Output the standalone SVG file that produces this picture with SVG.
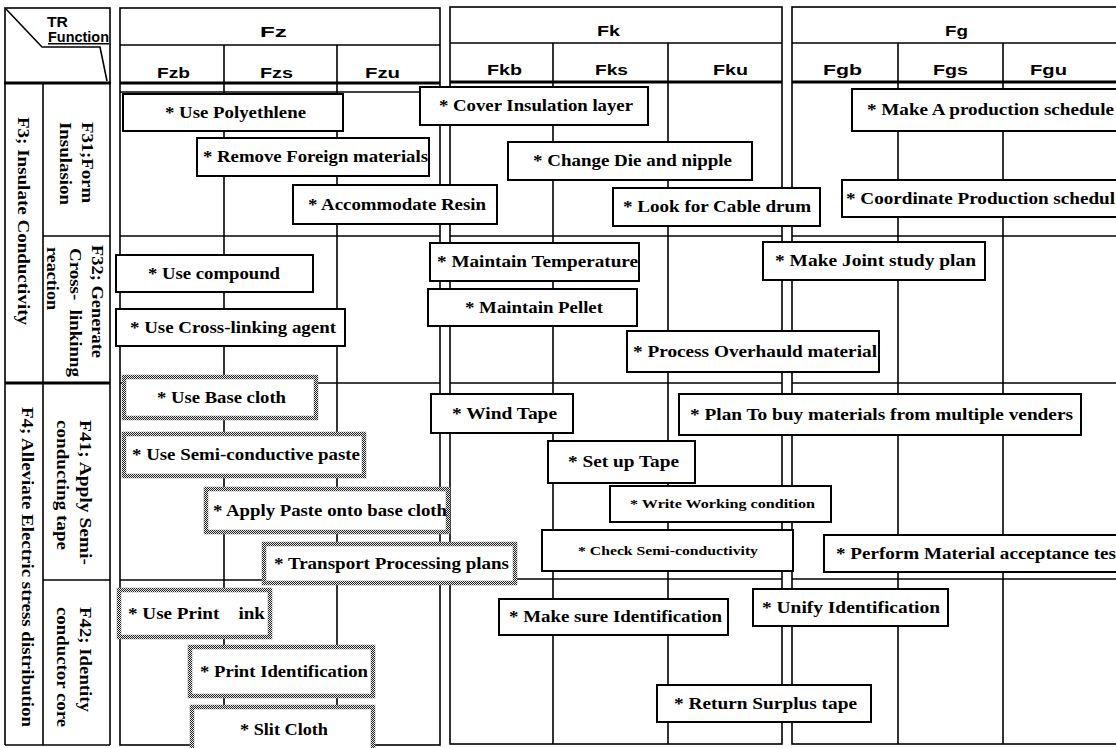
<svg xmlns="http://www.w3.org/2000/svg" width="1116" height="748" viewBox="0 0 1116 748">
<style>
.ln{stroke:#000;stroke-width:1.6;fill:none}
.thk{stroke:#000;stroke-width:3;fill:none}
.box{fill:#fff;stroke:#000;stroke-width:2}
.hbox{fill:#fff;stroke:url(#chk);stroke-width:4.5}
.t{font-family:"Liberation Serif","Times New Roman",serif;font-weight:bold;font-size:17px;fill:#000}
.ts{font-family:"Liberation Serif","Times New Roman",serif;font-weight:bold;font-size:12.5px;fill:#000}
.h{font-family:"Liberation Sans",Arial,sans-serif;font-weight:bold;font-size:15px;fill:#000}
.lb{font-family:"Liberation Serif","Times New Roman",serif;font-weight:bold;font-size:16px;fill:#000}
</style>
<defs>
<pattern id="chk" width="2" height="2" patternUnits="userSpaceOnUse">
<rect width="2" height="2" fill="#e8e8e8"/>
<rect width="1" height="1" fill="#222"/>
<rect x="1" y="1" width="1" height="1" fill="#222"/>
</pattern>
</defs>
<rect width="1116" height="748" fill="#fff"/>

<g id="table">
<rect class="ln" x="5" y="8" width="105" height="75"/>
<polyline class="ln" points="6,9 42,47 100,47 107,81"/>
<line class="thk" x1="4" y1="83" x2="111" y2="83"/>
<line class="ln" x1="5" y1="83" x2="5" y2="745"/>
<line class="ln" x1="43" y1="83" x2="43" y2="745"/>
<line class="ln" x1="110" y1="83" x2="110" y2="745"/>
<line class="ln" x1="43" y1="236" x2="110" y2="236"/>
<line class="thk" x1="5" y1="383" x2="110" y2="383"/>
<line class="ln" x1="43" y1="580" x2="110" y2="580"/>
<line class="ln" x1="5" y1="745" x2="110" y2="745"/>

<rect class="ln" x="120" y="8" width="320" height="737"/>
<line class="ln" x1="120" y1="45" x2="440" y2="45"/>
<line class="thk" x1="120" y1="83" x2="440" y2="83"/>
<line class="ln" x1="120" y1="92" x2="440" y2="92"/>
<line class="ln" x1="224" y1="45" x2="224" y2="745"/>
<line class="ln" x1="337" y1="45" x2="337" y2="745"/>
<line class="ln" x1="120" y1="236" x2="440" y2="236"/>
<line class="ln" x1="120" y1="383" x2="440" y2="383"/>
<line class="ln" x1="120" y1="580" x2="440" y2="580"/>

<rect class="ln" x="450" y="7" width="332" height="737"/>
<line class="ln" x1="450" y1="43" x2="782" y2="43"/>
<line class="thk" x1="450" y1="82" x2="782" y2="82"/>
<line class="ln" x1="553" y1="43" x2="553" y2="744"/>
<line class="ln" x1="668" y1="43" x2="668" y2="744"/>
<line class="ln" x1="450" y1="236" x2="782" y2="236"/>
<line class="ln" x1="450" y1="383" x2="782" y2="383"/>
<line class="ln" x1="450" y1="579" x2="782" y2="579"/>

<rect class="ln" x="792" y="7" width="340" height="737"/>
<line class="ln" x1="792" y1="43" x2="1132" y2="43"/>
<line class="thk" x1="792" y1="82" x2="1132" y2="82"/>
<line class="ln" x1="898" y1="43" x2="898" y2="744"/>
<line class="ln" x1="1003" y1="43" x2="1003" y2="744"/>
<line class="ln" x1="792" y1="236" x2="1132" y2="236"/>
<line class="ln" x1="792" y1="383" x2="1132" y2="383"/>
<line class="ln" x1="792" y1="579" x2="1132" y2="579"/>
</g>

<g id="headers">
<text class="h" x="47" y="27" font-size="12" textLength="21" lengthAdjust="spacingAndGlyphs">TR</text>
<text class="h" x="48" y="42" font-size="11" textLength="61" lengthAdjust="spacingAndGlyphs" text-decoration="underline">Function</text>
<text class="h" x="260" y="37" textLength="27" lengthAdjust="spacingAndGlyphs">Fz</text>
<text class="h" x="157" y="78" textLength="33" lengthAdjust="spacingAndGlyphs">Fzb</text>
<text class="h" x="260" y="78" textLength="33" lengthAdjust="spacingAndGlyphs">Fzs</text>
<text class="h" x="365" y="78" textLength="35" lengthAdjust="spacingAndGlyphs">Fzu</text>
<text class="h" x="597" y="36" textLength="23" lengthAdjust="spacingAndGlyphs">Fk</text>
<text class="h" x="487" y="75" textLength="35" lengthAdjust="spacingAndGlyphs">Fkb</text>
<text class="h" x="595" y="75" textLength="33" lengthAdjust="spacingAndGlyphs">Fks</text>
<text class="h" x="713" y="75" textLength="35" lengthAdjust="spacingAndGlyphs">Fku</text>
<text class="h" x="945" y="36" textLength="23" lengthAdjust="spacingAndGlyphs">Fg</text>
<text class="h" x="823" y="75" textLength="39" lengthAdjust="spacingAndGlyphs">Fgb</text>
<text class="h" x="933" y="75" textLength="35" lengthAdjust="spacingAndGlyphs">Fgs</text>
<text class="h" x="1030" y="75" textLength="37" lengthAdjust="spacingAndGlyphs">Fgu</text>
</g>

<g id="row-labels">
<text class="lb" transform="translate(18,117) rotate(90)" textLength="208" lengthAdjust="spacingAndGlyphs">F3; Insulate Conductivity</text>
<text class="lb" transform="translate(82,122) rotate(90)" textLength="81" lengthAdjust="spacingAndGlyphs">F31;Form</text>
<text class="lb" transform="translate(60,122) rotate(90)" textLength="83" lengthAdjust="spacingAndGlyphs">Insulasion</text>
<text class="lb" transform="translate(92,245) rotate(90)" textLength="113" lengthAdjust="spacingAndGlyphs">F32; Generate</text>
<text class="lb" transform="translate(70,248) rotate(90)" textLength="129" lengthAdjust="spacingAndGlyphs" xml:space="preserve">Cross-  linkinng</text>
<text class="lb" transform="translate(47,247) rotate(90)" textLength="63" lengthAdjust="spacingAndGlyphs">reaction</text>
<text class="lb" transform="translate(22,407) rotate(90)" textLength="320" lengthAdjust="spacingAndGlyphs">F4; Alleviate Electric stress distribution</text>
<text class="lb" transform="translate(80,420) rotate(90)" textLength="145" lengthAdjust="spacingAndGlyphs">F41; Apply Semi-</text>
<text class="lb" transform="translate(57,420) rotate(90)" textLength="130" lengthAdjust="spacingAndGlyphs">conducting tape</text>
<text class="lb" transform="translate(80,607) rotate(90)" textLength="105" lengthAdjust="spacingAndGlyphs">F42; Identity</text>
<text class="lb" transform="translate(57,607) rotate(90)" textLength="120" lengthAdjust="spacingAndGlyphs">conductor core</text>
</g>

<g id="n1"><rect class="box" x="123" y="94" width="220" height="37"/><text class="t" x="165" y="118" textLength="141" lengthAdjust="spacingAndGlyphs">* Use Polyethlene</text></g>
<g id="n2"><rect class="box" x="197" y="138" width="232" height="38"/><text class="t" x="203" y="162" textLength="225" lengthAdjust="spacingAndGlyphs">* Remove Foreign materials</text></g>
<g id="n3"><rect class="box" x="293" y="185" width="204" height="39"/><text class="t" x="308" y="210" textLength="178" lengthAdjust="spacingAndGlyphs">* Accommodate Resin</text></g>
<g id="n4"><rect class="box" x="420" y="87" width="228" height="38"/><text class="t" x="439" y="111" textLength="194" lengthAdjust="spacingAndGlyphs">* Cover Insulation layer</text></g>
<g id="n5"><rect class="box" x="508" y="142" width="244" height="38"/><text class="t" x="533" y="166" textLength="199" lengthAdjust="spacingAndGlyphs">* Change Die and nipple</text></g>
<g id="n6"><rect class="box" x="613" y="188" width="207" height="38"/><text class="t" x="623" y="212" textLength="188" lengthAdjust="spacingAndGlyphs">* Look for Cable drum</text></g>
<g id="n7"><rect class="box" x="852" y="89" width="280" height="42"/><text class="t" x="867" y="115" textLength="247" lengthAdjust="spacingAndGlyphs">* Make A production schedule</text></g>
<g id="n8"><rect class="box" x="842" y="180" width="290" height="37"/><text class="t" x="846" y="204" textLength="269" lengthAdjust="spacingAndGlyphs">* Coordinate Production schedul</text></g>
<g id="n9"><rect class="box" x="116" y="255" width="197" height="37"/><text class="t" x="148" y="279" textLength="132" lengthAdjust="spacingAndGlyphs">* Use compound</text></g>
<g id="n10"><rect class="box" x="116" y="309" width="229" height="37"/><text class="t" x="130" y="333" textLength="206" lengthAdjust="spacingAndGlyphs">* Use Cross-linking agent</text></g>
<g id="n11"><rect class="box" x="430" y="243" width="209" height="38"/><text class="t" x="437" y="267" textLength="201" lengthAdjust="spacingAndGlyphs">* Maintain Temperature</text></g>
<g id="n12"><rect class="box" x="428" y="289" width="209" height="37"/><text class="t" x="465" y="313" textLength="138" lengthAdjust="spacingAndGlyphs">* Maintain Pellet</text></g>
<g id="n13"><rect class="box" x="627" y="331" width="252" height="41"/><text class="t" x="633" y="357" textLength="244" lengthAdjust="spacingAndGlyphs">* Process Overhauld material</text></g>
<g id="n14"><rect class="box" x="763" y="242" width="222" height="38"/><text class="t" x="775" y="266" textLength="201" lengthAdjust="spacingAndGlyphs">* Make Joint study plan</text></g>

<g id="n15"><rect class="hbox" x="124" y="377" width="192" height="41"/><text class="t" x="157" y="403" textLength="129" lengthAdjust="spacingAndGlyphs">* Use Base cloth</text></g>
<g id="n16"><rect class="hbox" x="124" y="434" width="240" height="42"/><text class="t" x="132" y="460" textLength="228" lengthAdjust="spacingAndGlyphs">* Use Semi-conductive paste</text></g>
<g id="n17"><rect class="hbox" x="206" y="489" width="242" height="43"/><text class="t" x="213" y="516" textLength="234" lengthAdjust="spacingAndGlyphs">* Apply Paste onto base cloth</text></g>
<g id="n18"><rect class="hbox" x="264" y="544" width="251" height="39"/><text class="t" x="274" y="569" textLength="235" lengthAdjust="spacingAndGlyphs">* Transport Processing plans</text></g>
<g id="n19"><rect class="hbox" x="119" y="590" width="151" height="47"/><text class="t" x="128" y="619" textLength="137" lengthAdjust="spacingAndGlyphs" xml:space="preserve">* Use Print    ink</text></g>
<g id="n20"><rect class="hbox" x="190" y="647" width="183" height="49"/><text class="t" x="200" y="677" textLength="168" lengthAdjust="spacingAndGlyphs">* Print Identification</text></g>
<g id="n21"><rect class="hbox" x="192" y="707" width="181" height="50"/><text class="t" x="240" y="735" textLength="88" lengthAdjust="spacingAndGlyphs">* Slit Cloth</text></g>

<g id="n22"><rect class="box" x="431" y="394" width="142" height="39"/><text class="t" x="452" y="419" textLength="105" lengthAdjust="spacingAndGlyphs">* Wind Tape</text></g>
<g id="n23"><rect class="box" x="679" y="394" width="402" height="41"/><text class="t" x="690" y="420" textLength="383" lengthAdjust="spacingAndGlyphs">* Plan To buy materials from multiple venders</text></g>
<g id="n24"><rect class="box" x="548" y="441" width="147" height="42"/><text class="t" x="568" y="467" textLength="111" lengthAdjust="spacingAndGlyphs">* Set up Tape</text></g>
<g id="n25"><rect class="box" x="610" y="486" width="221" height="36"/><text class="ts" x="630" y="508" textLength="185" lengthAdjust="spacingAndGlyphs">* Write Working condition</text></g>
<g id="n26"><rect class="box" x="542" y="530" width="251" height="41"/><text class="ts" x="578" y="555" textLength="180" lengthAdjust="spacingAndGlyphs">* Check Semi-conductivity</text></g>
<g id="n27"><rect class="box" x="824" y="535" width="308" height="37"/><text class="t" x="836" y="559" textLength="280" lengthAdjust="spacingAndGlyphs">* Perform Material acceptance tes</text></g>
<g id="n28"><rect class="box" x="499" y="599" width="229" height="36"/><text class="t" x="509" y="622" textLength="213" lengthAdjust="spacingAndGlyphs">* Make sure Identification</text></g>
<g id="n29"><rect class="box" x="753" y="589" width="195" height="37"/><text class="t" x="762" y="613" textLength="178" lengthAdjust="spacingAndGlyphs">* Unify Identification</text></g>
<g id="n30"><rect class="box" x="657" y="685" width="214" height="37"/><text class="t" x="674" y="709" textLength="183" lengthAdjust="spacingAndGlyphs">* Return Surplus tape</text></g>
</svg>
